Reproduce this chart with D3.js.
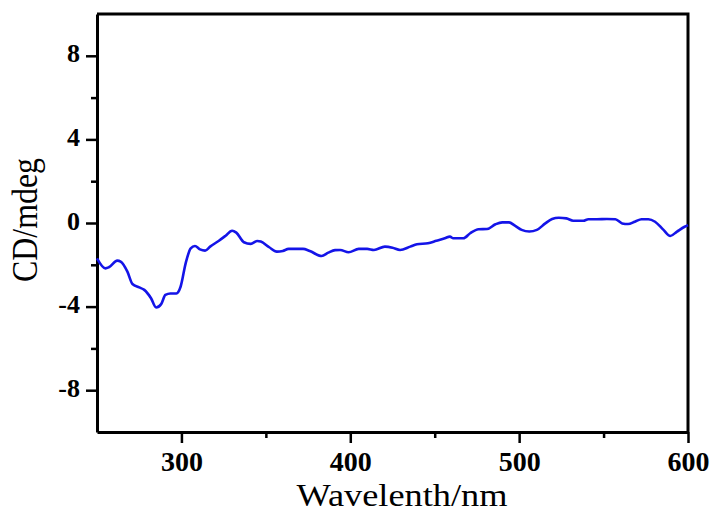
<!DOCTYPE html>
<html>
<head>
<meta charset="utf-8">
<script src="https://cdn.jsdelivr.net/npm/d3@7"></script>
<style>
  html, body { margin: 0; padding: 0; background: #fff; }
  svg { display: block; }
</style>
</head>
<body>
<svg id="chart" width="714" height="513"></svg>
<script>
// CD spectrum: wavelength (nm) and ellipticity (mdeg)
const wavelength = [250, 255, 257, 262, 264, 268, 271, 275, 278, 282, 285, 288, 290.5, 293.5, 297, 299.5,
  302.5, 305.5, 308, 311, 314, 317, 322, 326, 330, 332.5, 337, 341, 345, 347, 352, 356.5, 360, 363.5,
  372, 376, 383, 387, 391, 394, 399, 405, 410, 414, 420.5, 425, 429.5, 435.5, 439.5, 446, 451, 456,
  459, 461, 467, 471, 476, 481, 486, 490, 494, 497.5, 501.5, 506, 510.5, 515.5, 519.5, 523.5, 528,
  532, 538, 541, 546, 552, 557, 561, 564.5, 568.5, 572.5, 576.5, 580.5, 585.5, 589.5, 593.5, 598, 600];
const cd = [-1.69, -2.17, -2.12, -1.80, -1.85, -2.33, -2.92, -3.08, -3.20, -3.60, -4.04, -3.88, -3.44, -3.37, -3.37, -3.05,
  -1.93, -1.21, -1.10, -1.26, -1.32, -1.13, -0.86, -0.62, -0.37, -0.46, -0.92, -1.00, -0.86, -0.89, -1.16, -1.37, -1.34, -1.24,
  -1.24, -1.34, -1.58, -1.42, -1.30, -1.29, -1.40, -1.24, -1.24, -1.29, -1.13, -1.18, -1.29, -1.13, -1.02, -0.97, -0.85, -0.73,
  -0.65, -0.73, -0.73, -0.49, -0.30, -0.29, -0.06, 0.03, 0.03, -0.13, -0.33, -0.41, -0.33, -0.02, 0.19, 0.25, 0.22,
  0.11, 0.11, 0.18, 0.18, 0.19, 0.18, -0.02, -0.05, 0.06, 0.18, 0.18, 0.06, -0.33, -0.62, -0.41, -0.18, -0.10];

const xMajor = [300, 400, 500, 600];
const xMinor = [350, 450, 550];
const yMajor = [-8, -4, 0, 4, 8];
const yMinor = [-6, -2, 2, 6];

const xDomain = [250, 600];
const yDomain = [-10, 10];

const W = 714, H = 513;
const margin = { left: 97, right: 26, top: 14, bottom: 81 };
const serif = "'Liberation Serif', 'Times New Roman', serif";

const svg = d3.select("#chart");

const x = d3.scaleLinear().domain(xDomain).range([margin.left, W - margin.right]);
const y = d3.scaleLinear().domain(yDomain).range([H - margin.bottom, margin.top]);

// frame (top and right edges)
svg.append("path")
  .attr("d", `M${x(250)},${y(10)}H${x(600)}V${y(-10)}`)
  .attr("fill", "none").attr("stroke", "#000").attr("stroke-width", 3);

// minor ticks
const gxMinor = svg.append("g")
  .attr("transform", `translate(0,${y(-10)})`)
  .call(d3.axisBottom(x).tickValues(xMinor).tickSize(6).tickFormat(""));
const gyMinor = svg.append("g")
  .attr("transform", `translate(${x(250)},0)`)
  .call(d3.axisLeft(y).tickValues(yMinor).tickSize(6).tickFormat(""));
[gxMinor, gyMinor].forEach(g => {
  g.select(".domain").remove();
  g.selectAll(".tick line").attr("stroke", "#000").attr("stroke-width", 2.5);
});

// major axes
const gx = svg.append("g")
  .attr("transform", `translate(0,${y(-10)})`)
  .call(d3.axisBottom(x).tickValues(xMajor).tickSize(11).tickSizeOuter(0)
    .tickFormat(d => String(d)));
const gy = svg.append("g")
  .attr("transform", `translate(${x(250)},0)`)
  .call(d3.axisLeft(y).tickValues(yMajor).tickSize(11).tickSizeOuter(0)
    .tickFormat(d => String(d)));

[gx, gy].forEach(g => {
  g.select(".domain").attr("stroke", "#000").attr("stroke-width", 3);
  g.selectAll(".tick line").attr("stroke", "#000").attr("stroke-width", 2.5);
  g.selectAll(".tick text")
    .attr("fill", "#000")
    .attr("font-family", serif)
    .attr("font-weight", "bold");
});
gx.selectAll(".tick text").attr("font-size", 28).attr("dy", null).attr("y", 39);
gy.selectAll(".tick text").attr("font-size", 26).attr("dy", null).attr("y", 6).attr("x", -17);

// spectrum line
const line = d3.line()
  .x((d, i) => x(wavelength[i]))
  .y(d => y(d))
  .curve(d3.curveMonotoneX);

svg.append("path")
  .datum(cd)
  .attr("d", line)
  .attr("fill", "none")
  .attr("stroke", "#1414e8")
  .attr("stroke-width", 2.6)
  .attr("stroke-linejoin", "round");

// axis titles
svg.append("text")
  .attr("x", 402).attr("y", 506)
  .attr("text-anchor", "middle")
  .attr("font-family", serif)
  .attr("font-size", 32)
  .attr("textLength", 211).attr("lengthAdjust", "spacingAndGlyphs")
  .text("Wavelenth/nm");

svg.append("text")
  .attr("transform", "translate(37,220) rotate(-90)")
  .attr("text-anchor", "middle")
  .attr("font-family", serif)
  .attr("font-size", 35)
  .attr("textLength", 124).attr("lengthAdjust", "spacingAndGlyphs")
  .text("CD/mdeg");
</script>
</body>
</html>
